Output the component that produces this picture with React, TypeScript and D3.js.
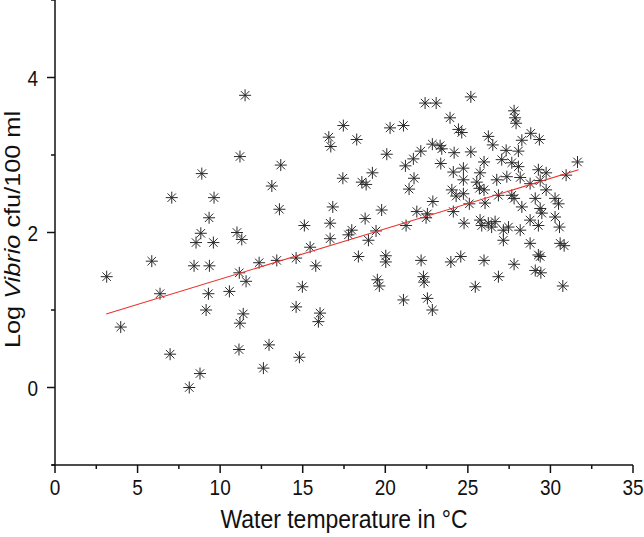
import React from "react";
import * as d3 from "d3";

const temperature = [
  3.13, 3.98, 5.86, 6.36, 7.07, 6.97, 8.13, 8.78, 8.42, 8.54, 8.83, 8.89, 9.15, 9.29, 9.35, 9.33, 9.59, 9.63,
  10.56, 11.02, 11.31, 11.16, 11.57, 11.4, 11.2, 11.14, 11.2, 11.51, 12.36, 12.62, 12.96, 13.13, 13.43, 13.59,
  13.67, 14.6, 14.6, 14.8,
  22.41, 23.08, 17.46, 20.29, 21.1, 16.58, 16.7, 18.27, 20.09, 22.85, 23.32, 22.15, 21.7, 21.22, 23.36, 19.22,
  17.43, 18.58, 18.84, 21.74, 21.44, 22.88, 16.82, 19.78, 21.91, 22.55, 22.47, 15.1, 16.66, 18.78, 21.26, 16.66,
  17.97, 17.77, 19.44, 18.98, 15.45, 15.79, 18.37, 20.03, 20.03, 22.17, 14.98, 19.52, 19.64, 22.31, 22.35, 16.05,
  15.95, 21.1, 22.55, 22.85,
  25.18, 27.8, 27.92, 27.86, 23.92, 24.43, 24.63, 26.24, 26.51, 28.81, 29.33, 28.27, 23.42, 24.17, 25.18, 27.32,
  28.06, 24.12, 24.73, 25.98, 25.74, 27.05, 27.66, 28.06, 24.73, 25.54, 25.7, 26.75, 27.36, 28.17, 29.27, 29.74,
  31.64, 30.95, 24.03, 24.29, 24.73, 25.98, 26.04, 26.85, 27.66, 27.8, 28.77, 29.38, 29.74, 28.27, 29.08, 29.38,
  30.28, 30.49, 25.09, 24.12, 24.77, 25.74, 26.24, 26.65, 25.84, 26.44, 27.15, 27.46, 27.15, 28.17, 28.77, 29.27,
  29.48, 30.28, 30.55, 28.77, 29.27, 29.38, 30.59, 30.83, 23.97, 24.57, 25.98, 27.8, 29.08, 29.42, 26.85, 25.45,
  30.75,
];

const logVibrio = [
  1.43, 0.78, 1.63, 1.21, 2.45, 0.43, 0.0, 0.18, 1.57, 1.87, 1.99, 2.76, 1.0, 1.21, 1.57, 2.19, 1.87, 2.45,
  1.24, 2.0, 1.91, 1.48, 1.37, 0.95, 0.83, 0.49, 2.98, 3.77, 1.61, 0.25, 0.55, 2.6, 1.64, 2.3,
  2.87, 1.67, 1.04, 0.39,
  3.67, 3.67, 3.38, 3.35, 3.38, 3.23, 3.11, 3.2, 3.01, 3.14, 3.12, 3.05, 2.95, 2.86, 2.89, 2.77,
  2.7, 2.65, 2.62, 2.7, 2.56, 2.4, 2.33, 2.29, 2.27, 2.24, 2.19, 2.09, 2.12, 2.18, 2.09, 1.92,
  2.03, 1.97, 2.02, 1.9, 1.81, 1.57, 1.69, 1.7, 1.62, 1.64, 1.3, 1.39, 1.31, 1.43, 1.36, 0.96,
  0.85, 1.13, 1.15, 1.0,
  3.75, 3.57, 3.41, 3.48, 3.48, 3.33, 3.29, 3.24, 3.13, 3.28, 3.2, 3.19, 3.08, 3.03, 3.04, 3.06,
  3.05, 2.78, 2.83, 2.91, 2.77, 2.94, 2.9, 2.85, 2.68, 2.65, 2.57, 2.68, 2.72, 2.71, 2.81, 2.77,
  2.91, 2.74, 2.55, 2.47, 2.5, 2.55, 2.38, 2.48, 2.48, 2.44, 2.63, 2.67, 2.55, 2.33, 2.44, 2.31,
  2.44, 2.37, 2.37, 2.27, 2.12, 2.16, 2.12, 2.14, 2.09, 2.07, 2.03, 2.07, 1.9, 2.03, 2.16, 2.09,
  2.25, 2.2, 2.07, 1.86, 1.71, 1.69, 1.86, 1.83, 1.62, 1.69, 1.64, 1.59, 1.51, 1.48, 1.43, 1.3,
  1.31,
];

const xTickLabels = [0, 5, 10, 15, 20, 25, 30, 35];
const xMinorTicks = [2.5, 7.5, 12.5, 17.5, 22.5, 27.5, 32.5];
const yTickLabels = [0, 2, 4];
const yMinorTicks = [-1, 1, 3, 5];

const fitIntercept = 0.748;
const fitSlope = 0.065;
const fitRange = [3.1, 31.7];

const xTitle = "Water temperature in °C";

export default function App() {
  const width = 644;
  const height = 537;
  const x = d3.scaleLinear().domain([0, 35]).range([55, 633]);
  const y = d3.scaleLinear().domain([-1, 5]).range([465, 0]);

  const points = temperature.map((t, i) => ({ t, v: logVibrio[i] }));
  const fitLine = d3
    .line<number>()
    .x((t) => x(t))
    .y((t) => y(fitIntercept + fitSlope * t));

  const r = 6;
  const star = (cx: number, cy: number) => {
    const a = r * Math.cos(Math.PI / 4);
    return `M${cx},${cy - r}L${cx},${cy + r}M${cx - r},${cy}L${cx + r},${cy}M${cx - a},${cy - a}L${cx + a},${cy + a}M${cx - a},${cy + a}L${cx + a},${cy - a}`;
  };

  const font = "Liberation Sans, Arial, sans-serif";
  const axisColor = "#111";

  return (
    <svg
      width={width}
      height={height}
      style={{ position: "absolute", left: 0, top: 0, background: "#fff" }}
      fontFamily={font}
    >
      <rect x={0} y={0} width={width} height={height} fill="#fff" />
      <g stroke="#2a2a2a" strokeWidth={1} fill="none">
        {points.map((p, i) => (
          <path key={i} d={star(x(p.t), y(p.v))} />
        ))}
      </g>
      <path d={fitLine(fitRange) || ""} stroke="#e8322e" strokeWidth={1.1} fill="none" />

      <g stroke={axisColor} strokeWidth={1.5}>
        <line x1={x(0)} x2={x(0)} y1={y(5)} y2={y(-1)} />
        <line x1={x(0) - 3} x2={x(35)} y1={y(-1)} y2={y(-1)} />
        {xTickLabels.map((t) => (
          <line key={"xm" + t} x1={x(t)} x2={x(t)} y1={y(-1)} y2={y(-1) + 8} />
        ))}
        {xMinorTicks.map((t) => (
          <line key={"xn" + t} x1={x(t)} x2={x(t)} y1={y(-1)} y2={y(-1) + 4} />
        ))}
        {yTickLabels.map((t) => (
          <line key={"ym" + t} x1={x(0) - 8} x2={x(0)} y1={y(t)} y2={y(t)} />
        ))}
        {yMinorTicks.map((t) => (
          <line key={"yn" + t} x1={x(0) - 4} x2={x(0)} y1={y(t)} y2={y(t)} />
        ))}
      </g>
      <g fill="#111" fontSize={19}>
        {xTickLabels.map((t) => (
          <text
            key={"xl" + t}
            textAnchor="middle"
            transform={`translate(${x(t)},${y(-1) + 30}) scale(1,1.2)`}
          >
            {t}
          </text>
        ))}
        {yTickLabels.map((t) => (
          <text
            key={"yl" + t}
            textAnchor="end"
            transform={`translate(${x(0) - 17},${y(t) + 8}) scale(1,1.2)`}
          >
            {t}
          </text>
        ))}
      </g>
      <text
        fill="#111"
        fontSize={23}
        textAnchor="middle"
        transform={`translate(${(x(0) + x(35)) / 2},528) scale(1,1.1)`}
      >
        {xTitle}
      </text>
      <text
        fill="#111"
        fontSize={22}
        textAnchor="middle"
        transform={`translate(20,${y(2) - 3}) rotate(-90) scale(1.15,1)`}
      >
        Log <tspan fontStyle="italic">Vibrio</tspan> cfu/100 ml
      </text>
    </svg>
  );
}
